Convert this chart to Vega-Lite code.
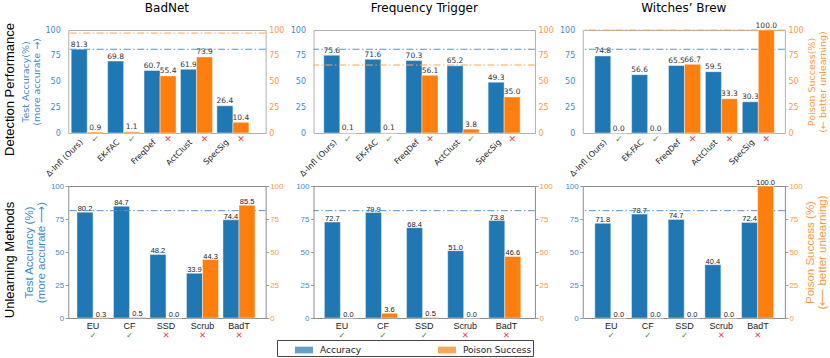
{
  "$schema": "https://vega.github.io/schema/vega-lite/v6.json",
  "padding": {"left": 0, "top": 1, "right": 0, "bottom": 0},
  "autosize": {"type": "pad"},
  "columns": 4,
  "bounds": "flush",
  "spacing": {"row": 53, "column": 47.25},
  "datasets": {
    "bars": [
      {"panel": "D1", "method": "Δ-Infl (Ours)", "metric": "Accuracy", "value": 81.3},
      {"panel": "D1", "method": "Δ-Infl (Ours)", "metric": "Poison Success", "value": 0.9, "mark": "✓"},
      {"panel": "D1", "method": "EK-FAC", "metric": "Accuracy", "value": 69.8},
      {"panel": "D1", "method": "EK-FAC", "metric": "Poison Success", "value": 1.1, "mark": "✓"},
      {"panel": "D1", "method": "FreqDef", "metric": "Accuracy", "value": 60.7},
      {"panel": "D1", "method": "FreqDef", "metric": "Poison Success", "value": 55.4, "mark": "✕"},
      {"panel": "D1", "method": "ActClust", "metric": "Accuracy", "value": 61.9},
      {"panel": "D1", "method": "ActClust", "metric": "Poison Success", "value": 73.9, "mark": "✕"},
      {"panel": "D1", "method": "SpecSig", "metric": "Accuracy", "value": 26.4},
      {"panel": "D1", "method": "SpecSig", "metric": "Poison Success", "value": 10.4, "mark": "✕"},
      {"panel": "D2", "method": "Δ-Infl (Ours)", "metric": "Accuracy", "value": 75.6},
      {"panel": "D2", "method": "Δ-Infl (Ours)", "metric": "Poison Success", "value": 0.1, "mark": "✓"},
      {"panel": "D2", "method": "EK-FAC", "metric": "Accuracy", "value": 71.6},
      {"panel": "D2", "method": "EK-FAC", "metric": "Poison Success", "value": 0.1, "mark": "✓"},
      {"panel": "D2", "method": "FreqDef", "metric": "Accuracy", "value": 70.3},
      {"panel": "D2", "method": "FreqDef", "metric": "Poison Success", "value": 56.1, "mark": "✕"},
      {"panel": "D2", "method": "ActClust", "metric": "Accuracy", "value": 65.2},
      {"panel": "D2", "method": "ActClust", "metric": "Poison Success", "value": 3.8, "mark": "✓"},
      {"panel": "D2", "method": "SpecSig", "metric": "Accuracy", "value": 49.3},
      {"panel": "D2", "method": "SpecSig", "metric": "Poison Success", "value": 35.0, "mark": "✕"},
      {"panel": "D3", "method": "Δ-Infl (Ours)", "metric": "Accuracy", "value": 74.8},
      {"panel": "D3", "method": "Δ-Infl (Ours)", "metric": "Poison Success", "value": 0.0, "mark": "✓"},
      {"panel": "D3", "method": "EK-FAC", "metric": "Accuracy", "value": 56.6},
      {"panel": "D3", "method": "EK-FAC", "metric": "Poison Success", "value": 0.0, "mark": "✓"},
      {"panel": "D3", "method": "FreqDef", "metric": "Accuracy", "value": 65.5},
      {"panel": "D3", "method": "FreqDef", "metric": "Poison Success", "value": 66.7, "mark": "✕"},
      {"panel": "D3", "method": "ActClust", "metric": "Accuracy", "value": 59.5},
      {"panel": "D3", "method": "ActClust", "metric": "Poison Success", "value": 33.3, "mark": "✕"},
      {"panel": "D3", "method": "SpecSig", "metric": "Accuracy", "value": 30.3},
      {"panel": "D3", "method": "SpecSig", "metric": "Poison Success", "value": 100.0, "mark": "✕"},
      {"panel": "U1", "method": "EU", "metric": "Accuracy", "value": 80.2},
      {"panel": "U1", "method": "EU", "metric": "Poison Success", "value": 0.3, "mark": "✓"},
      {"panel": "U1", "method": "CF", "metric": "Accuracy", "value": 84.7},
      {"panel": "U1", "method": "CF", "metric": "Poison Success", "value": 0.5, "mark": "✓"},
      {"panel": "U1", "method": "SSD", "metric": "Accuracy", "value": 48.2},
      {"panel": "U1", "method": "SSD", "metric": "Poison Success", "value": 0.0, "mark": "✕"},
      {"panel": "U1", "method": "Scrub", "metric": "Accuracy", "value": 33.9},
      {"panel": "U1", "method": "Scrub", "metric": "Poison Success", "value": 44.3, "mark": "✕"},
      {"panel": "U1", "method": "BadT", "metric": "Accuracy", "value": 74.4},
      {"panel": "U1", "method": "BadT", "metric": "Poison Success", "value": 85.5, "mark": "✕"},
      {"panel": "U2", "method": "EU", "metric": "Accuracy", "value": 72.7},
      {"panel": "U2", "method": "EU", "metric": "Poison Success", "value": 0.0, "mark": "✓"},
      {"panel": "U2", "method": "CF", "metric": "Accuracy", "value": 79.9},
      {"panel": "U2", "method": "CF", "metric": "Poison Success", "value": 3.6, "mark": "✓"},
      {"panel": "U2", "method": "SSD", "metric": "Accuracy", "value": 68.4},
      {"panel": "U2", "method": "SSD", "metric": "Poison Success", "value": 0.5, "mark": "✓"},
      {"panel": "U2", "method": "Scrub", "metric": "Accuracy", "value": 51.0},
      {"panel": "U2", "method": "Scrub", "metric": "Poison Success", "value": 0.0, "mark": "✕"},
      {"panel": "U2", "method": "BadT", "metric": "Accuracy", "value": 73.8},
      {"panel": "U2", "method": "BadT", "metric": "Poison Success", "value": 46.6, "mark": "✕"},
      {"panel": "U3", "method": "EU", "metric": "Accuracy", "value": 71.8},
      {"panel": "U3", "method": "EU", "metric": "Poison Success", "value": 0.0, "mark": "✓"},
      {"panel": "U3", "method": "CF", "metric": "Accuracy", "value": 78.7},
      {"panel": "U3", "method": "CF", "metric": "Poison Success", "value": 0.0, "mark": "✓"},
      {"panel": "U3", "method": "SSD", "metric": "Accuracy", "value": 74.7},
      {"panel": "U3", "method": "SSD", "metric": "Poison Success", "value": 0.0, "mark": "✓"},
      {"panel": "U3", "method": "Scrub", "metric": "Accuracy", "value": 40.4},
      {"panel": "U3", "method": "Scrub", "metric": "Poison Success", "value": 0.0, "mark": "✕"},
      {"panel": "U3", "method": "BadT", "metric": "Accuracy", "value": 72.4},
      {"panel": "U3", "method": "BadT", "metric": "Poison Success", "value": 100.0, "mark": "✕"}
    ],
    "refs": [
      {"panel": "D1", "metric": "Accuracy", "value": 81.3},
      {"panel": "D1", "metric": "Poison Success", "value": 97},
      {"panel": "D2", "metric": "Accuracy", "value": 81.3},
      {"panel": "D2", "metric": "Poison Success", "value": 66},
      {"panel": "D3", "metric": "Accuracy", "value": 81.3},
      {"panel": "D3", "metric": "Poison Success", "value": 100},
      {"panel": "U1", "metric": "Accuracy", "value": 81.3},
      {"panel": "U2", "metric": "Accuracy", "value": 81.3},
      {"panel": "U3", "metric": "Accuracy", "value": 81.3}
    ]
  },
  "concat": [
    {
      "width": 20.25, "height": 103,
      "view": {"stroke": null},
      "data": {"values": [{"label": "Detection Performance"}]},
      "mark": {"type": "text", "angle": 270, "font": "Liberation Sans", "fontSize": 13, "color": "#000", "dx": -8},
      "encoding": {"text": {"field": "label", "type": "nominal"}}
    },
    {
      "width": 197.4, "height": 103,
      "view": {"stroke": "#b0b0b0"},
      "title": {"text": "BadNet", "font": "DejaVu Sans", "fontSize": 12, "fontWeight": "normal", "color": "#000", "offset": 11.5, "frame": "group"},
      "data": {"name": "bars"},
      "transform": [{"filter": "datum.panel == 'D1'"}],
      "layer": [
        {"layer": [
          {"transform": [{"filter": "datum.metric == 'Accuracy'"}],
           "mark": {"type": "bar", "stroke": "#ffffff", "strokeWidth": 0.8, "strokeOpacity": 0.55},
           "encoding": {
             "x": {"field": "method", "type": "nominal", "sort": null, "title": null, "scale": {"paddingInner": 0.12, "paddingOuter": 0.27, "align": 0.15}, "axis": {"labelAngle": -45, "labelAlign": "right", "labelBaseline": "top", "labelFont": "DejaVu Sans", "labelFontSize": 8, "labelColor": "#222", "labelOffset": -8, "labelPadding": 5, "ticks": false, "domain": false, "labelLimit": 300}},
             "xOffset": {"field": "metric", "type": "nominal", "scale": {"domain": ["Accuracy", "Poison Success"], "paddingInner": 0, "paddingOuter": 0}},
             "y": {"field": "value", "type": "quantitative", "scale": {"domain": [0, 100]}, "axis": {"orient": "left", "values": [0, 25, 50, 75, 100], "grid": false, "domain": false, "ticks": false, "labelFont": "DejaVu Sans", "labelFontSize": 8, "labelColor": "#3d8ccb", "labelPadding": 8, "title": ["Test Accuracy(%)", "(more accurate →)"], "titleFont": "DejaVu Sans", "titleFontSize": 9.5, "titleFontWeight": "normal", "titleColor": "#3d8ccb", "titlePadding": 3, "titleLineHeight": 11}},
             "color": {"field": "metric", "type": "nominal", "scale": {"domain": ["Accuracy", "Poison Success"], "range": ["#1f77b4", "#ff7f0e"]},
               "legend": {"orient": "none", "legendX": 277, "legendY": 310, "direction": "horizontal", "columns": 2, "columnPadding": 76, "title": "\u00a0", "titleOrient": "left", "titlePadding": 17, "titleFontSize": 9, "symbolType": "M-1,-0.37L1,-0.37L1,0.37L-1,0.37Z", "symbolSize": 324, "symbolOpacity": 0.7, "symbolStrokeWidth": 0, "labelFont": "DejaVu Sans", "labelFontSize": 9, "labelColor": "#222", "labelOffset": 7, "labelExpr": "datum.label == 'Poison Success' ? 'Poison Success\u00a0\u00a0\u00a0\u00a0\u00a0\u00a0\u00a0' : datum.label", "strokeColor": "#444", "padding": 1}}
           }},
          {"transform": [{"filter": "datum.metric == 'Accuracy'"}],
           "mark": {"type": "text", "font": "DejaVu Sans", "fontSize": 7.5, "color": "#333", "baseline": "alphabetic", "dy": -2.5},
           "encoding": {
             "x": {"field": "method", "type": "nominal", "sort": null, "title": null, "scale": {"paddingInner": 0.12, "paddingOuter": 0.27, "align": 0.15}, "axis": {"labelAngle": -45, "labelAlign": "right", "labelBaseline": "top", "labelFont": "DejaVu Sans", "labelFontSize": 8, "labelColor": "#222", "labelOffset": -8, "labelPadding": 5, "ticks": false, "domain": false, "labelLimit": 300}},
             "xOffset": {"field": "metric", "type": "nominal", "scale": {"domain": ["Accuracy", "Poison Success"], "paddingInner": 0, "paddingOuter": 0}},
             "y": {"field": "value", "type": "quantitative", "scale": {"domain": [0, 100]}, "axis": {"orient": "left", "values": [0, 25, 50, 75, 100], "grid": false, "domain": false, "ticks": false, "labelFont": "DejaVu Sans", "labelFontSize": 8, "labelColor": "#3d8ccb", "labelPadding": 8, "title": ["Test Accuracy(%)", "(more accurate →)"], "titleFont": "DejaVu Sans", "titleFontSize": 9.5, "titleFontWeight": "normal", "titleColor": "#3d8ccb", "titlePadding": 3, "titleLineHeight": 11}},
             "text": {"field": "value", "type": "quantitative", "format": ".1f"}
           }},
          {"data": {"name": "refs"},
           "transform": [{"filter": "datum.panel == 'D1' && datum.metric == 'Accuracy'"}],
           "mark": {"type": "rule", "color": "#4f96cf", "strokeWidth": 1, "strokeDash": [7, 2.5, 1.5, 2.5]},
           "encoding": {"y": {"field": "value", "type": "quantitative", "scale": {"domain": [0, 100]}, "axis": {"orient": "left", "values": [0, 25, 50, 75, 100], "grid": false, "domain": false, "ticks": false, "labelFont": "DejaVu Sans", "labelFontSize": 8, "labelColor": "#3d8ccb", "labelPadding": 8, "title": ["Test Accuracy(%)", "(more accurate →)"], "titleFont": "DejaVu Sans", "titleFontSize": 9.5, "titleFontWeight": "normal", "titleColor": "#3d8ccb", "titlePadding": 3, "titleLineHeight": 11}}}},
          {"transform": [{"filter": "datum.metric == 'Poison Success'"}],
           "mark": {"type": "text", "font": "DejaVu Sans", "fontSize": 9, "baseline": "middle"},
           "encoding": {
             "x": {"field": "method", "type": "nominal", "sort": null, "title": null, "scale": {"paddingInner": 0.12, "paddingOuter": 0.27, "align": 0.15}, "axis": {"labelAngle": -45, "labelAlign": "right", "labelBaseline": "top", "labelFont": "DejaVu Sans", "labelFontSize": 8, "labelColor": "#222", "labelOffset": -8, "labelPadding": 5, "ticks": false, "domain": false, "labelLimit": 300}},
             "xOffset": {"field": "metric", "type": "nominal", "scale": {"domain": ["Accuracy", "Poison Success"], "paddingInner": 0, "paddingOuter": 0}},
             "y": {"datum": -6, "type": "quantitative", "scale": {"domain": [0, 100]}, "axis": {"orient": "left", "values": [0, 25, 50, 75, 100], "grid": false, "domain": false, "ticks": false, "labelFont": "DejaVu Sans", "labelFontSize": 8, "labelColor": "#3d8ccb", "labelPadding": 8, "title": ["Test Accuracy(%)", "(more accurate →)"], "titleFont": "DejaVu Sans", "titleFontSize": 9.5, "titleFontWeight": "normal", "titleColor": "#3d8ccb", "titlePadding": 3, "titleLineHeight": 11}},
             "text": {"field": "mark", "type": "nominal"},
             "color": {"condition": {"test": "datum.mark == '✓'", "value": "#3a9a3a"}, "value": "#e0484a"}
           }}
        ]},
        {"layer": [
          {"transform": [{"filter": "datum.metric == 'Poison Success'"}],
           "mark": {"type": "bar", "stroke": "#ffffff", "strokeWidth": 0.8, "strokeOpacity": 0.55},
           "encoding": {
             "x": {"field": "method", "type": "nominal", "sort": null, "title": null, "scale": {"paddingInner": 0.12, "paddingOuter": 0.27, "align": 0.15}, "axis": {"labelAngle": -45, "labelAlign": "right", "labelBaseline": "top", "labelFont": "DejaVu Sans", "labelFontSize": 8, "labelColor": "#222", "labelOffset": -8, "labelPadding": 5, "ticks": false, "domain": false, "labelLimit": 300}},
             "xOffset": {"field": "metric", "type": "nominal", "scale": {"domain": ["Accuracy", "Poison Success"], "paddingInner": 0, "paddingOuter": 0}},
             "y": {"field": "value", "type": "quantitative", "scale": {"domain": [0, 100]}, "axis": {"orient": "right", "values": [0, 25, 50, 75, 100], "grid": false, "domain": false, "ticks": false, "labelFont": "DejaVu Sans", "labelFontSize": 8, "labelColor": "#fd9a40", "labelPadding": 3, "title": null}},
             "color": {"field": "metric", "type": "nominal", "scale": {"domain": ["Accuracy", "Poison Success"], "range": ["#1f77b4", "#ff7f0e"]}, "legend": null}
           }},
          {"transform": [{"filter": "datum.metric == 'Poison Success'"}],
           "mark": {"type": "text", "font": "DejaVu Sans", "fontSize": 7.5, "color": "#333", "baseline": "alphabetic", "dy": -2.5},
           "encoding": {
             "x": {"field": "method", "type": "nominal", "sort": null, "title": null, "scale": {"paddingInner": 0.12, "paddingOuter": 0.27, "align": 0.15}, "axis": {"labelAngle": -45, "labelAlign": "right", "labelBaseline": "top", "labelFont": "DejaVu Sans", "labelFontSize": 8, "labelColor": "#222", "labelOffset": -8, "labelPadding": 5, "ticks": false, "domain": false, "labelLimit": 300}},
             "xOffset": {"field": "metric", "type": "nominal", "scale": {"domain": ["Accuracy", "Poison Success"], "paddingInner": 0, "paddingOuter": 0}},
             "y": {"field": "value", "type": "quantitative", "scale": {"domain": [0, 100]}, "axis": {"orient": "right", "values": [0, 25, 50, 75, 100], "grid": false, "domain": false, "ticks": false, "labelFont": "DejaVu Sans", "labelFontSize": 8, "labelColor": "#fd9a40", "labelPadding": 3, "title": null}},
             "text": {"field": "value", "type": "quantitative", "format": ".1f"}
           }},
          {"data": {"name": "refs"},
           "transform": [{"filter": "datum.panel == 'D1' && datum.metric == 'Poison Success'"}],
           "mark": {"type": "rule", "color": "#ffa54f", "strokeWidth": 1, "strokeDash": [7, 2.5, 1.5, 2.5]},
           "encoding": {"y": {"field": "value", "type": "quantitative", "scale": {"domain": [0, 100]}, "axis": {"orient": "right", "values": [0, 25, 50, 75, 100], "grid": false, "domain": false, "ticks": false, "labelFont": "DejaVu Sans", "labelFontSize": 8, "labelColor": "#fd9a40", "labelPadding": 3, "title": null}}}}
        ]}
      ],
      "resolve": {"scale": {"y": "independent"}}
    },
    {
      "width": 221.45, "height": 103,
      "view": {"stroke": "#b0b0b0"},
      "title": {"text": "Frequency Trigger", "font": "DejaVu Sans", "fontSize": 12, "fontWeight": "normal", "color": "#000", "offset": 11.5, "frame": "group"},
      "data": {"name": "bars"},
      "transform": [{"filter": "datum.panel == 'D2'"}],
      "layer": [
        {"layer": [
          {"transform": [{"filter": "datum.metric == 'Accuracy'"}],
           "mark": {"type": "bar", "stroke": "#ffffff", "strokeWidth": 0.8, "strokeOpacity": 0.55},
           "encoding": {
             "x": {"field": "method", "type": "nominal", "sort": null, "title": null, "scale": {"paddingInner": 0.11, "paddingOuter": 0.25, "align": 0.5}, "axis": {"labelAngle": -45, "labelAlign": "right", "labelBaseline": "top", "labelFont": "DejaVu Sans", "labelFontSize": 8, "labelColor": "#222", "labelOffset": -9, "labelPadding": 5, "ticks": false, "domain": false, "labelLimit": 300}},
             "xOffset": {"field": "metric", "type": "nominal", "scale": {"domain": ["Accuracy", "Poison Success"], "paddingInner": 0, "paddingOuter": 0}},
             "y": {"field": "value", "type": "quantitative", "scale": {"domain": [0, 100]}, "axis": {"orient": "left", "values": [0, 25, 50, 75, 100], "grid": false, "domain": false, "ticks": false, "labelFont": "DejaVu Sans", "labelFontSize": 8, "labelColor": "#3d8ccb", "labelPadding": 8, "title": null}},
             "color": {"field": "metric", "type": "nominal", "scale": {"domain": ["Accuracy", "Poison Success"], "range": ["#1f77b4", "#ff7f0e"]}, "legend": null}
           }},
          {"transform": [{"filter": "datum.metric == 'Accuracy'"}],
           "mark": {"type": "text", "font": "DejaVu Sans", "fontSize": 7.5, "color": "#333", "baseline": "alphabetic", "dy": -2.5},
           "encoding": {
             "x": {"field": "method", "type": "nominal", "sort": null, "title": null, "scale": {"paddingInner": 0.11, "paddingOuter": 0.25, "align": 0.5}, "axis": {"labelAngle": -45, "labelAlign": "right", "labelBaseline": "top", "labelFont": "DejaVu Sans", "labelFontSize": 8, "labelColor": "#222", "labelOffset": -9, "labelPadding": 5, "ticks": false, "domain": false, "labelLimit": 300}},
             "xOffset": {"field": "metric", "type": "nominal", "scale": {"domain": ["Accuracy", "Poison Success"], "paddingInner": 0, "paddingOuter": 0}},
             "y": {"field": "value", "type": "quantitative", "scale": {"domain": [0, 100]}, "axis": {"orient": "left", "values": [0, 25, 50, 75, 100], "grid": false, "domain": false, "ticks": false, "labelFont": "DejaVu Sans", "labelFontSize": 8, "labelColor": "#3d8ccb", "labelPadding": 8, "title": null}},
             "text": {"field": "value", "type": "quantitative", "format": ".1f"}
           }},
          {"data": {"name": "refs"},
           "transform": [{"filter": "datum.panel == 'D2' && datum.metric == 'Accuracy'"}],
           "mark": {"type": "rule", "color": "#4f96cf", "strokeWidth": 1, "strokeDash": [7, 2.5, 1.5, 2.5]},
           "encoding": {"y": {"field": "value", "type": "quantitative", "scale": {"domain": [0, 100]}, "axis": {"orient": "left", "values": [0, 25, 50, 75, 100], "grid": false, "domain": false, "ticks": false, "labelFont": "DejaVu Sans", "labelFontSize": 8, "labelColor": "#3d8ccb", "labelPadding": 8, "title": null}}}},
          {"transform": [{"filter": "datum.metric == 'Poison Success'"}],
           "mark": {"type": "text", "font": "DejaVu Sans", "fontSize": 9, "baseline": "middle"},
           "encoding": {
             "x": {"field": "method", "type": "nominal", "sort": null, "title": null, "scale": {"paddingInner": 0.11, "paddingOuter": 0.25, "align": 0.5}, "axis": {"labelAngle": -45, "labelAlign": "right", "labelBaseline": "top", "labelFont": "DejaVu Sans", "labelFontSize": 8, "labelColor": "#222", "labelOffset": -9, "labelPadding": 5, "ticks": false, "domain": false, "labelLimit": 300}},
             "xOffset": {"field": "metric", "type": "nominal", "scale": {"domain": ["Accuracy", "Poison Success"], "paddingInner": 0, "paddingOuter": 0}},
             "y": {"datum": -6, "type": "quantitative", "scale": {"domain": [0, 100]}, "axis": {"orient": "left", "values": [0, 25, 50, 75, 100], "grid": false, "domain": false, "ticks": false, "labelFont": "DejaVu Sans", "labelFontSize": 8, "labelColor": "#3d8ccb", "labelPadding": 8, "title": null}},
             "text": {"field": "mark", "type": "nominal"},
             "color": {"condition": {"test": "datum.mark == '✓'", "value": "#3a9a3a"}, "value": "#e0484a"}
           }}
        ]},
        {"layer": [
          {"transform": [{"filter": "datum.metric == 'Poison Success'"}],
           "mark": {"type": "bar", "stroke": "#ffffff", "strokeWidth": 0.8, "strokeOpacity": 0.55},
           "encoding": {
             "x": {"field": "method", "type": "nominal", "sort": null, "title": null, "scale": {"paddingInner": 0.11, "paddingOuter": 0.25, "align": 0.5}, "axis": {"labelAngle": -45, "labelAlign": "right", "labelBaseline": "top", "labelFont": "DejaVu Sans", "labelFontSize": 8, "labelColor": "#222", "labelOffset": -9, "labelPadding": 5, "ticks": false, "domain": false, "labelLimit": 300}},
             "xOffset": {"field": "metric", "type": "nominal", "scale": {"domain": ["Accuracy", "Poison Success"], "paddingInner": 0, "paddingOuter": 0}},
             "y": {"field": "value", "type": "quantitative", "scale": {"domain": [0, 100]}, "axis": {"orient": "right", "values": [0, 25, 50, 75, 100], "grid": false, "domain": false, "ticks": false, "labelFont": "DejaVu Sans", "labelFontSize": 8, "labelColor": "#fd9a40", "labelPadding": 3, "title": null}},
             "color": {"field": "metric", "type": "nominal", "scale": {"domain": ["Accuracy", "Poison Success"], "range": ["#1f77b4", "#ff7f0e"]}, "legend": null}
           }},
          {"transform": [{"filter": "datum.metric == 'Poison Success'"}],
           "mark": {"type": "text", "font": "DejaVu Sans", "fontSize": 7.5, "color": "#333", "baseline": "alphabetic", "dy": -2.5},
           "encoding": {
             "x": {"field": "method", "type": "nominal", "sort": null, "title": null, "scale": {"paddingInner": 0.11, "paddingOuter": 0.25, "align": 0.5}, "axis": {"labelAngle": -45, "labelAlign": "right", "labelBaseline": "top", "labelFont": "DejaVu Sans", "labelFontSize": 8, "labelColor": "#222", "labelOffset": -9, "labelPadding": 5, "ticks": false, "domain": false, "labelLimit": 300}},
             "xOffset": {"field": "metric", "type": "nominal", "scale": {"domain": ["Accuracy", "Poison Success"], "paddingInner": 0, "paddingOuter": 0}},
             "y": {"field": "value", "type": "quantitative", "scale": {"domain": [0, 100]}, "axis": {"orient": "right", "values": [0, 25, 50, 75, 100], "grid": false, "domain": false, "ticks": false, "labelFont": "DejaVu Sans", "labelFontSize": 8, "labelColor": "#fd9a40", "labelPadding": 3, "title": null}},
             "text": {"field": "value", "type": "quantitative", "format": ".1f"}
           }},
          {"data": {"name": "refs"},
           "transform": [{"filter": "datum.panel == 'D2' && datum.metric == 'Poison Success'"}],
           "mark": {"type": "rule", "color": "#ffa54f", "strokeWidth": 1, "strokeDash": [7, 2.5, 1.5, 2.5]},
           "encoding": {"y": {"field": "value", "type": "quantitative", "scale": {"domain": [0, 100]}, "axis": {"orient": "right", "values": [0, 25, 50, 75, 100], "grid": false, "domain": false, "ticks": false, "labelFont": "DejaVu Sans", "labelFontSize": 8, "labelColor": "#fd9a40", "labelPadding": 3, "title": null}}}}
        ]}
      ],
      "resolve": {"scale": {"y": "independent"}}
    },
    {
      "width": 202.15, "height": 103,
      "view": {"stroke": "#b0b0b0"},
      "title": {"text": "Witches’ Brew", "font": "DejaVu Sans", "fontSize": 12, "fontWeight": "normal", "color": "#000", "offset": 6.5, "frame": "group"},
      "data": {"name": "bars"},
      "transform": [{"filter": "datum.panel == 'D3'"}],
      "layer": [
        {"layer": [
          {"transform": [{"filter": "datum.metric == 'Accuracy'"}],
           "mark": {"type": "bar", "stroke": "#ffffff", "strokeWidth": 0.8, "strokeOpacity": 0.55},
           "encoding": {
             "x": {"field": "method", "type": "nominal", "sort": null, "title": null, "scale": {"paddingInner": 0.1, "paddingOuter": 0.29, "align": 0.56}, "axis": {"labelAngle": -45, "labelAlign": "right", "labelBaseline": "top", "labelFont": "DejaVu Sans", "labelFontSize": 8, "labelColor": "#222", "labelOffset": -8.3, "labelPadding": 5, "ticks": false, "domain": false, "labelLimit": 300}},
             "xOffset": {"field": "metric", "type": "nominal", "scale": {"domain": ["Accuracy", "Poison Success"], "paddingInner": 0, "paddingOuter": 0}},
             "y": {"field": "value", "type": "quantitative", "scale": {"domain": [0, 100]}, "axis": {"orient": "left", "values": [0, 25, 50, 75, 100], "grid": false, "domain": false, "ticks": false, "labelFont": "DejaVu Sans", "labelFontSize": 8, "labelColor": "#3d8ccb", "labelPadding": 8, "title": null}},
             "color": {"field": "metric", "type": "nominal", "scale": {"domain": ["Accuracy", "Poison Success"], "range": ["#1f77b4", "#ff7f0e"]}, "legend": null}
           }},
          {"transform": [{"filter": "datum.metric == 'Accuracy'"}],
           "mark": {"type": "text", "font": "DejaVu Sans", "fontSize": 7.5, "color": "#333", "baseline": "alphabetic", "dy": -2.5},
           "encoding": {
             "x": {"field": "method", "type": "nominal", "sort": null, "title": null, "scale": {"paddingInner": 0.1, "paddingOuter": 0.29, "align": 0.56}, "axis": {"labelAngle": -45, "labelAlign": "right", "labelBaseline": "top", "labelFont": "DejaVu Sans", "labelFontSize": 8, "labelColor": "#222", "labelOffset": -8.3, "labelPadding": 5, "ticks": false, "domain": false, "labelLimit": 300}},
             "xOffset": {"field": "metric", "type": "nominal", "scale": {"domain": ["Accuracy", "Poison Success"], "paddingInner": 0, "paddingOuter": 0}},
             "y": {"field": "value", "type": "quantitative", "scale": {"domain": [0, 100]}, "axis": {"orient": "left", "values": [0, 25, 50, 75, 100], "grid": false, "domain": false, "ticks": false, "labelFont": "DejaVu Sans", "labelFontSize": 8, "labelColor": "#3d8ccb", "labelPadding": 8, "title": null}},
             "text": {"field": "value", "type": "quantitative", "format": ".1f"}
           }},
          {"data": {"name": "refs"},
           "transform": [{"filter": "datum.panel == 'D3' && datum.metric == 'Accuracy'"}],
           "mark": {"type": "rule", "color": "#4f96cf", "strokeWidth": 1, "strokeDash": [7, 2.5, 1.5, 2.5]},
           "encoding": {"y": {"field": "value", "type": "quantitative", "scale": {"domain": [0, 100]}, "axis": {"orient": "left", "values": [0, 25, 50, 75, 100], "grid": false, "domain": false, "ticks": false, "labelFont": "DejaVu Sans", "labelFontSize": 8, "labelColor": "#3d8ccb", "labelPadding": 8, "title": null}}}},
          {"transform": [{"filter": "datum.metric == 'Poison Success'"}],
           "mark": {"type": "text", "font": "DejaVu Sans", "fontSize": 9, "baseline": "middle"},
           "encoding": {
             "x": {"field": "method", "type": "nominal", "sort": null, "title": null, "scale": {"paddingInner": 0.1, "paddingOuter": 0.29, "align": 0.56}, "axis": {"labelAngle": -45, "labelAlign": "right", "labelBaseline": "top", "labelFont": "DejaVu Sans", "labelFontSize": 8, "labelColor": "#222", "labelOffset": -8.3, "labelPadding": 5, "ticks": false, "domain": false, "labelLimit": 300}},
             "xOffset": {"field": "metric", "type": "nominal", "scale": {"domain": ["Accuracy", "Poison Success"], "paddingInner": 0, "paddingOuter": 0}},
             "y": {"datum": -6, "type": "quantitative", "scale": {"domain": [0, 100]}, "axis": {"orient": "left", "values": [0, 25, 50, 75, 100], "grid": false, "domain": false, "ticks": false, "labelFont": "DejaVu Sans", "labelFontSize": 8, "labelColor": "#3d8ccb", "labelPadding": 8, "title": null}},
             "text": {"field": "mark", "type": "nominal"},
             "color": {"condition": {"test": "datum.mark == '✓'", "value": "#3a9a3a"}, "value": "#e0484a"}
           }}
        ]},
        {"layer": [
          {"transform": [{"filter": "datum.metric == 'Poison Success'"}],
           "mark": {"type": "bar", "stroke": "#ffffff", "strokeWidth": 0.8, "strokeOpacity": 0.55},
           "encoding": {
             "x": {"field": "method", "type": "nominal", "sort": null, "title": null, "scale": {"paddingInner": 0.1, "paddingOuter": 0.29, "align": 0.56}, "axis": {"labelAngle": -45, "labelAlign": "right", "labelBaseline": "top", "labelFont": "DejaVu Sans", "labelFontSize": 8, "labelColor": "#222", "labelOffset": -8.3, "labelPadding": 5, "ticks": false, "domain": false, "labelLimit": 300}},
             "xOffset": {"field": "metric", "type": "nominal", "scale": {"domain": ["Accuracy", "Poison Success"], "paddingInner": 0, "paddingOuter": 0}},
             "y": {"field": "value", "type": "quantitative", "scale": {"domain": [0, 100]}, "axis": {"orient": "right", "values": [0, 25, 50, 75, 100], "grid": false, "domain": false, "ticks": false, "labelFont": "DejaVu Sans", "labelFontSize": 8, "labelColor": "#fd9a40", "labelPadding": 3, "title": ["Poison Success(%)", "(← better unlearning)"], "titleAngle": 270, "titleBaseline": "top", "titleFont": "DejaVu Sans", "titleFontSize": 9.5, "titleFontWeight": "normal", "titleColor": "#fd9a40", "titlePadding": -8, "titleLineHeight": 11}},
             "color": {"field": "metric", "type": "nominal", "scale": {"domain": ["Accuracy", "Poison Success"], "range": ["#1f77b4", "#ff7f0e"]}, "legend": null}
           }},
          {"transform": [{"filter": "datum.metric == 'Poison Success'"}],
           "mark": {"type": "text", "font": "DejaVu Sans", "fontSize": 7.5, "color": "#333", "baseline": "alphabetic", "dy": -2.5},
           "encoding": {
             "x": {"field": "method", "type": "nominal", "sort": null, "title": null, "scale": {"paddingInner": 0.1, "paddingOuter": 0.29, "align": 0.56}, "axis": {"labelAngle": -45, "labelAlign": "right", "labelBaseline": "top", "labelFont": "DejaVu Sans", "labelFontSize": 8, "labelColor": "#222", "labelOffset": -8.3, "labelPadding": 5, "ticks": false, "domain": false, "labelLimit": 300}},
             "xOffset": {"field": "metric", "type": "nominal", "scale": {"domain": ["Accuracy", "Poison Success"], "paddingInner": 0, "paddingOuter": 0}},
             "y": {"field": "value", "type": "quantitative", "scale": {"domain": [0, 100]}, "axis": {"orient": "right", "values": [0, 25, 50, 75, 100], "grid": false, "domain": false, "ticks": false, "labelFont": "DejaVu Sans", "labelFontSize": 8, "labelColor": "#fd9a40", "labelPadding": 3, "title": ["Poison Success(%)", "(← better unlearning)"], "titleAngle": 270, "titleBaseline": "top", "titleFont": "DejaVu Sans", "titleFontSize": 9.5, "titleFontWeight": "normal", "titleColor": "#fd9a40", "titlePadding": -8, "titleLineHeight": 11}},
             "text": {"field": "value", "type": "quantitative", "format": ".1f"}
           }},
          {"data": {"name": "refs"},
           "transform": [{"filter": "datum.panel == 'D3' && datum.metric == 'Poison Success'"}],
           "mark": {"type": "rule", "color": "#ffa54f", "strokeWidth": 1, "strokeDash": [7, 2.5, 1.5, 2.5]},
           "encoding": {"y": {"field": "value", "type": "quantitative", "scale": {"domain": [0, 100]}, "axis": {"orient": "right", "values": [0, 25, 50, 75, 100], "grid": false, "domain": false, "ticks": false, "labelFont": "DejaVu Sans", "labelFontSize": 8, "labelColor": "#fd9a40", "labelPadding": 3, "title": ["Poison Success(%)", "(← better unlearning)"], "titleAngle": 270, "titleBaseline": "top", "titleFont": "DejaVu Sans", "titleFontSize": 9.5, "titleFontWeight": "normal", "titleColor": "#fd9a40", "titlePadding": -8, "titleLineHeight": 11}}}}
        ]}
      ],
      "resolve": {"scale": {"y": "independent"}}
    },
    {
      "width": 20.25, "height": 132,
      "view": {"stroke": null},
      "data": {"values": [{"label": "Unlearning Methods"}]},
      "mark": {"type": "text", "angle": 270, "font": "Liberation Sans", "fontSize": 13, "color": "#000", "dx": -8},
      "encoding": {"text": {"field": "label", "type": "nominal"}}
    },
    {
      "width": 197.4, "height": 132,
      "view": {"stroke": "#8c8c8c"},
      "data": {"name": "bars"},
      "transform": [{"filter": "datum.panel == 'U1'"}],
      "layer": [
        {"layer": [
          {"transform": [{"filter": "datum.metric == 'Accuracy'"}],
           "mark": {"type": "bar", "stroke": "#ffffff", "strokeWidth": 0.8, "strokeOpacity": 0.55},
           "encoding": {
             "x": {"field": "method", "type": "nominal", "sort": null, "title": null, "scale": {"paddingInner": 0.123, "paddingOuter": 0.266, "align": 0.45}, "axis": {"labelAngle": 0, "labelFont": "Liberation Sans", "labelFontSize": 9, "labelColor": "#222", "labelPadding": 3, "ticks": false, "domain": false}},
             "xOffset": {"field": "metric", "type": "nominal", "scale": {"domain": ["Accuracy", "Poison Success"], "paddingInner": 0, "paddingOuter": 0}},
             "y": {"field": "value", "type": "quantitative", "scale": {"domain": [0, 100]}, "axis": {"orient": "left", "values": [0, 25, 50, 75, 100], "grid": false, "domain": false, "ticks": true, "tickSize": 3, "tickColor": "#999", "labelFont": "Liberation Sans", "labelFontSize": 8, "labelColor": "#3d8ccb", "labelPadding": 1.5, "title": ["Test Accuracy (%)", "(more accurate ⟶)"], "titleFont": "Liberation Sans", "titleFontSize": 11.5, "titleFontWeight": "normal", "titleColor": "#3d8ccb", "titlePadding": 4, "titleLineHeight": 12}},
             "color": {"field": "metric", "type": "nominal", "scale": {"domain": ["Accuracy", "Poison Success"], "range": ["#1f77b4", "#ff7f0e"]}, "legend": null}
           }},
          {"transform": [{"filter": "datum.metric == 'Accuracy'"}],
           "mark": {"type": "text", "font": "Liberation Sans", "fontSize": 7.5, "color": "#222", "baseline": "alphabetic", "dy": -1},
           "encoding": {
             "x": {"field": "method", "type": "nominal", "sort": null, "title": null, "scale": {"paddingInner": 0.123, "paddingOuter": 0.266, "align": 0.45}, "axis": {"labelAngle": 0, "labelFont": "Liberation Sans", "labelFontSize": 9, "labelColor": "#222", "labelPadding": 3, "ticks": false, "domain": false}},
             "xOffset": {"field": "metric", "type": "nominal", "scale": {"domain": ["Accuracy", "Poison Success"], "paddingInner": 0, "paddingOuter": 0}},
             "y": {"field": "value", "type": "quantitative", "scale": {"domain": [0, 100]}, "axis": {"orient": "left", "values": [0, 25, 50, 75, 100], "grid": false, "domain": false, "ticks": true, "tickSize": 3, "tickColor": "#999", "labelFont": "Liberation Sans", "labelFontSize": 8, "labelColor": "#3d8ccb", "labelPadding": 1.5, "title": ["Test Accuracy (%)", "(more accurate ⟶)"], "titleFont": "Liberation Sans", "titleFontSize": 11.5, "titleFontWeight": "normal", "titleColor": "#3d8ccb", "titlePadding": 4, "titleLineHeight": 12}},
             "text": {"field": "value", "type": "quantitative", "format": ".1f"}
           }},
          {"data": {"name": "refs"},
           "transform": [{"filter": "datum.panel == 'U1' && datum.metric == 'Accuracy'"}],
           "mark": {"type": "rule", "color": "#4f96cf", "strokeWidth": 1, "strokeDash": [7, 2.5, 1.5, 2.5]},
           "encoding": {"y": {"field": "value", "type": "quantitative", "scale": {"domain": [0, 100]}, "axis": {"orient": "left", "values": [0, 25, 50, 75, 100], "grid": false, "domain": false, "ticks": true, "tickSize": 3, "tickColor": "#999", "labelFont": "Liberation Sans", "labelFontSize": 8, "labelColor": "#3d8ccb", "labelPadding": 1.5, "title": ["Test Accuracy (%)", "(more accurate ⟶)"], "titleFont": "Liberation Sans", "titleFontSize": 11.5, "titleFontWeight": "normal", "titleColor": "#3d8ccb", "titlePadding": 4, "titleLineHeight": 12}}}},
          {"transform": [{"filter": "datum.metric == 'Poison Success'"}],
           "mark": {"type": "text", "font": "DejaVu Sans", "fontSize": 8.5, "baseline": "middle"},
           "encoding": {
             "x": {"field": "method", "type": "nominal", "sort": null, "title": null, "scale": {"paddingInner": 0.123, "paddingOuter": 0.266, "align": 0.45}, "axis": {"labelAngle": 0, "labelFont": "Liberation Sans", "labelFontSize": 9, "labelColor": "#222", "labelPadding": 3, "ticks": false, "domain": false}},
             "y": {"datum": -13, "type": "quantitative", "scale": {"domain": [0, 100]}, "axis": {"orient": "left", "values": [0, 25, 50, 75, 100], "grid": false, "domain": false, "ticks": true, "tickSize": 3, "tickColor": "#999", "labelFont": "Liberation Sans", "labelFontSize": 8, "labelColor": "#3d8ccb", "labelPadding": 1.5, "title": ["Test Accuracy (%)", "(more accurate ⟶)"], "titleFont": "Liberation Sans", "titleFontSize": 11.5, "titleFontWeight": "normal", "titleColor": "#3d8ccb", "titlePadding": 4, "titleLineHeight": 12}},
             "text": {"field": "mark", "type": "nominal"},
             "color": {"condition": {"test": "datum.mark == '✓'", "value": "#3a9a3a"}, "value": "#e0484a"}
           }}
        ]},
        {"layer": [
          {"transform": [{"filter": "datum.metric == 'Poison Success'"}],
           "mark": {"type": "bar", "stroke": "#ffffff", "strokeWidth": 0.8, "strokeOpacity": 0.55},
           "encoding": {
             "x": {"field": "method", "type": "nominal", "sort": null, "title": null, "scale": {"paddingInner": 0.123, "paddingOuter": 0.266, "align": 0.45}, "axis": {"labelAngle": 0, "labelFont": "Liberation Sans", "labelFontSize": 9, "labelColor": "#222", "labelPadding": 3, "ticks": false, "domain": false}},
             "xOffset": {"field": "metric", "type": "nominal", "scale": {"domain": ["Accuracy", "Poison Success"], "paddingInner": 0, "paddingOuter": 0}},
             "y": {"field": "value", "type": "quantitative", "scale": {"domain": [0, 100]}, "axis": {"orient": "right", "values": [0, 25, 50, 75, 100], "grid": false, "domain": false, "ticks": true, "tickSize": 3, "tickColor": "#999", "labelFont": "Liberation Sans", "labelFontSize": 8, "labelColor": "#fd9a40", "labelPadding": 1, "title": null}},
             "color": {"field": "metric", "type": "nominal", "scale": {"domain": ["Accuracy", "Poison Success"], "range": ["#1f77b4", "#ff7f0e"]}, "legend": null}
           }},
          {"transform": [{"filter": "datum.metric == 'Poison Success'"}],
           "mark": {"type": "text", "font": "Liberation Sans", "fontSize": 7.5, "color": "#222", "baseline": "alphabetic", "dy": -1},
           "encoding": {
             "x": {"field": "method", "type": "nominal", "sort": null, "title": null, "scale": {"paddingInner": 0.123, "paddingOuter": 0.266, "align": 0.45}, "axis": {"labelAngle": 0, "labelFont": "Liberation Sans", "labelFontSize": 9, "labelColor": "#222", "labelPadding": 3, "ticks": false, "domain": false}},
             "xOffset": {"field": "metric", "type": "nominal", "scale": {"domain": ["Accuracy", "Poison Success"], "paddingInner": 0, "paddingOuter": 0}},
             "y": {"field": "value", "type": "quantitative", "scale": {"domain": [0, 100]}, "axis": {"orient": "right", "values": [0, 25, 50, 75, 100], "grid": false, "domain": false, "ticks": true, "tickSize": 3, "tickColor": "#999", "labelFont": "Liberation Sans", "labelFontSize": 8, "labelColor": "#fd9a40", "labelPadding": 1, "title": null}},
             "text": {"field": "value", "type": "quantitative", "format": ".1f"}
           }}
        ]}
      ],
      "resolve": {"scale": {"y": "independent"}}
    },
    {
      "width": 221.45, "height": 132,
      "view": {"stroke": "#8c8c8c"},
      "data": {"name": "bars"},
      "transform": [{"filter": "datum.panel == 'U2'"}],
      "layer": [
        {"layer": [
          {"transform": [{"filter": "datum.metric == 'Accuracy'"}],
           "mark": {"type": "bar", "stroke": "#ffffff", "strokeWidth": 0.8, "strokeOpacity": 0.55},
           "encoding": {
             "x": {"field": "method", "type": "nominal", "sort": null, "title": null, "scale": {"paddingInner": 0.14, "paddingOuter": 0.264, "align": 0.5}, "axis": {"labelAngle": 0, "labelFont": "Liberation Sans", "labelFontSize": 9, "labelColor": "#222", "labelPadding": 3, "ticks": false, "domain": false}},
             "xOffset": {"field": "metric", "type": "nominal", "scale": {"domain": ["Accuracy", "Poison Success"], "paddingInner": 0, "paddingOuter": 0}},
             "y": {"field": "value", "type": "quantitative", "scale": {"domain": [0, 100]}, "axis": {"orient": "left", "values": [0, 25, 50, 75, 100], "grid": false, "domain": false, "ticks": true, "tickSize": 3, "tickColor": "#999", "labelFont": "Liberation Sans", "labelFontSize": 8, "labelColor": "#3d8ccb", "labelPadding": 1.5, "title": null}},
             "color": {"field": "metric", "type": "nominal", "scale": {"domain": ["Accuracy", "Poison Success"], "range": ["#1f77b4", "#ff7f0e"]}, "legend": null}
           }},
          {"transform": [{"filter": "datum.metric == 'Accuracy'"}],
           "mark": {"type": "text", "font": "Liberation Sans", "fontSize": 7.5, "color": "#222", "baseline": "alphabetic", "dy": -1},
           "encoding": {
             "x": {"field": "method", "type": "nominal", "sort": null, "title": null, "scale": {"paddingInner": 0.14, "paddingOuter": 0.264, "align": 0.5}, "axis": {"labelAngle": 0, "labelFont": "Liberation Sans", "labelFontSize": 9, "labelColor": "#222", "labelPadding": 3, "ticks": false, "domain": false}},
             "xOffset": {"field": "metric", "type": "nominal", "scale": {"domain": ["Accuracy", "Poison Success"], "paddingInner": 0, "paddingOuter": 0}},
             "y": {"field": "value", "type": "quantitative", "scale": {"domain": [0, 100]}, "axis": {"orient": "left", "values": [0, 25, 50, 75, 100], "grid": false, "domain": false, "ticks": true, "tickSize": 3, "tickColor": "#999", "labelFont": "Liberation Sans", "labelFontSize": 8, "labelColor": "#3d8ccb", "labelPadding": 1.5, "title": null}},
             "text": {"field": "value", "type": "quantitative", "format": ".1f"}
           }},
          {"data": {"name": "refs"},
           "transform": [{"filter": "datum.panel == 'U2' && datum.metric == 'Accuracy'"}],
           "mark": {"type": "rule", "color": "#4f96cf", "strokeWidth": 1, "strokeDash": [7, 2.5, 1.5, 2.5]},
           "encoding": {"y": {"field": "value", "type": "quantitative", "scale": {"domain": [0, 100]}, "axis": {"orient": "left", "values": [0, 25, 50, 75, 100], "grid": false, "domain": false, "ticks": true, "tickSize": 3, "tickColor": "#999", "labelFont": "Liberation Sans", "labelFontSize": 8, "labelColor": "#3d8ccb", "labelPadding": 1.5, "title": null}}}},
          {"transform": [{"filter": "datum.metric == 'Poison Success'"}],
           "mark": {"type": "text", "font": "DejaVu Sans", "fontSize": 8.5, "baseline": "middle"},
           "encoding": {
             "x": {"field": "method", "type": "nominal", "sort": null, "title": null, "scale": {"paddingInner": 0.14, "paddingOuter": 0.264, "align": 0.5}, "axis": {"labelAngle": 0, "labelFont": "Liberation Sans", "labelFontSize": 9, "labelColor": "#222", "labelPadding": 3, "ticks": false, "domain": false}},
             "y": {"datum": -13, "type": "quantitative", "scale": {"domain": [0, 100]}, "axis": {"orient": "left", "values": [0, 25, 50, 75, 100], "grid": false, "domain": false, "ticks": true, "tickSize": 3, "tickColor": "#999", "labelFont": "Liberation Sans", "labelFontSize": 8, "labelColor": "#3d8ccb", "labelPadding": 1.5, "title": null}},
             "text": {"field": "mark", "type": "nominal"},
             "color": {"condition": {"test": "datum.mark == '✓'", "value": "#3a9a3a"}, "value": "#e0484a"}
           }}
        ]},
        {"layer": [
          {"transform": [{"filter": "datum.metric == 'Poison Success'"}],
           "mark": {"type": "bar", "stroke": "#ffffff", "strokeWidth": 0.8, "strokeOpacity": 0.55},
           "encoding": {
             "x": {"field": "method", "type": "nominal", "sort": null, "title": null, "scale": {"paddingInner": 0.14, "paddingOuter": 0.264, "align": 0.5}, "axis": {"labelAngle": 0, "labelFont": "Liberation Sans", "labelFontSize": 9, "labelColor": "#222", "labelPadding": 3, "ticks": false, "domain": false}},
             "xOffset": {"field": "metric", "type": "nominal", "scale": {"domain": ["Accuracy", "Poison Success"], "paddingInner": 0, "paddingOuter": 0}},
             "y": {"field": "value", "type": "quantitative", "scale": {"domain": [0, 100]}, "axis": {"orient": "right", "values": [0, 25, 50, 75, 100], "grid": false, "domain": false, "ticks": true, "tickSize": 3, "tickColor": "#999", "labelFont": "Liberation Sans", "labelFontSize": 8, "labelColor": "#fd9a40", "labelPadding": 1, "title": null}},
             "color": {"field": "metric", "type": "nominal", "scale": {"domain": ["Accuracy", "Poison Success"], "range": ["#1f77b4", "#ff7f0e"]}, "legend": null}
           }},
          {"transform": [{"filter": "datum.metric == 'Poison Success'"}],
           "mark": {"type": "text", "font": "Liberation Sans", "fontSize": 7.5, "color": "#222", "baseline": "alphabetic", "dy": -1},
           "encoding": {
             "x": {"field": "method", "type": "nominal", "sort": null, "title": null, "scale": {"paddingInner": 0.14, "paddingOuter": 0.264, "align": 0.5}, "axis": {"labelAngle": 0, "labelFont": "Liberation Sans", "labelFontSize": 9, "labelColor": "#222", "labelPadding": 3, "ticks": false, "domain": false}},
             "xOffset": {"field": "metric", "type": "nominal", "scale": {"domain": ["Accuracy", "Poison Success"], "paddingInner": 0, "paddingOuter": 0}},
             "y": {"field": "value", "type": "quantitative", "scale": {"domain": [0, 100]}, "axis": {"orient": "right", "values": [0, 25, 50, 75, 100], "grid": false, "domain": false, "ticks": true, "tickSize": 3, "tickColor": "#999", "labelFont": "Liberation Sans", "labelFontSize": 8, "labelColor": "#fd9a40", "labelPadding": 1, "title": null}},
             "text": {"field": "value", "type": "quantitative", "format": ".1f"}
           }}
        ]}
      ],
      "resolve": {"scale": {"y": "independent"}}
    },
    {
      "width": 202.15, "height": 132,
      "view": {"stroke": "#8c8c8c"},
      "data": {"name": "bars"},
      "transform": [{"filter": "datum.panel == 'U3'"}],
      "layer": [
        {"layer": [
          {"transform": [{"filter": "datum.metric == 'Accuracy'"}],
           "mark": {"type": "bar", "stroke": "#ffffff", "strokeWidth": 0.8, "strokeOpacity": 0.55},
           "encoding": {
             "x": {"field": "method", "type": "nominal", "sort": null, "title": null, "scale": {"paddingInner": 0.11, "paddingOuter": 0.31, "align": 0.53}, "axis": {"labelAngle": 0, "labelFont": "Liberation Sans", "labelFontSize": 9, "labelColor": "#222", "labelPadding": 3, "ticks": false, "domain": false}},
             "xOffset": {"field": "metric", "type": "nominal", "scale": {"domain": ["Accuracy", "Poison Success"], "paddingInner": 0, "paddingOuter": 0}},
             "y": {"field": "value", "type": "quantitative", "scale": {"domain": [0, 100]}, "axis": {"orient": "left", "values": [0, 25, 50, 75, 100], "grid": false, "domain": false, "ticks": true, "tickSize": 3, "tickColor": "#999", "labelFont": "Liberation Sans", "labelFontSize": 8, "labelColor": "#3d8ccb", "labelPadding": 1.5, "title": null}},
             "color": {"field": "metric", "type": "nominal", "scale": {"domain": ["Accuracy", "Poison Success"], "range": ["#1f77b4", "#ff7f0e"]}, "legend": null}
           }},
          {"transform": [{"filter": "datum.metric == 'Accuracy'"}],
           "mark": {"type": "text", "font": "Liberation Sans", "fontSize": 7.5, "color": "#222", "baseline": "alphabetic", "dy": -1},
           "encoding": {
             "x": {"field": "method", "type": "nominal", "sort": null, "title": null, "scale": {"paddingInner": 0.11, "paddingOuter": 0.31, "align": 0.53}, "axis": {"labelAngle": 0, "labelFont": "Liberation Sans", "labelFontSize": 9, "labelColor": "#222", "labelPadding": 3, "ticks": false, "domain": false}},
             "xOffset": {"field": "metric", "type": "nominal", "scale": {"domain": ["Accuracy", "Poison Success"], "paddingInner": 0, "paddingOuter": 0}},
             "y": {"field": "value", "type": "quantitative", "scale": {"domain": [0, 100]}, "axis": {"orient": "left", "values": [0, 25, 50, 75, 100], "grid": false, "domain": false, "ticks": true, "tickSize": 3, "tickColor": "#999", "labelFont": "Liberation Sans", "labelFontSize": 8, "labelColor": "#3d8ccb", "labelPadding": 1.5, "title": null}},
             "text": {"field": "value", "type": "quantitative", "format": ".1f"}
           }},
          {"data": {"name": "refs"},
           "transform": [{"filter": "datum.panel == 'U3' && datum.metric == 'Accuracy'"}],
           "mark": {"type": "rule", "color": "#4f96cf", "strokeWidth": 1, "strokeDash": [7, 2.5, 1.5, 2.5]},
           "encoding": {"y": {"field": "value", "type": "quantitative", "scale": {"domain": [0, 100]}, "axis": {"orient": "left", "values": [0, 25, 50, 75, 100], "grid": false, "domain": false, "ticks": true, "tickSize": 3, "tickColor": "#999", "labelFont": "Liberation Sans", "labelFontSize": 8, "labelColor": "#3d8ccb", "labelPadding": 1.5, "title": null}}}},
          {"transform": [{"filter": "datum.metric == 'Poison Success'"}],
           "mark": {"type": "text", "font": "DejaVu Sans", "fontSize": 8.5, "baseline": "middle"},
           "encoding": {
             "x": {"field": "method", "type": "nominal", "sort": null, "title": null, "scale": {"paddingInner": 0.11, "paddingOuter": 0.31, "align": 0.53}, "axis": {"labelAngle": 0, "labelFont": "Liberation Sans", "labelFontSize": 9, "labelColor": "#222", "labelPadding": 3, "ticks": false, "domain": false}},
             "y": {"datum": -13, "type": "quantitative", "scale": {"domain": [0, 100]}, "axis": {"orient": "left", "values": [0, 25, 50, 75, 100], "grid": false, "domain": false, "ticks": true, "tickSize": 3, "tickColor": "#999", "labelFont": "Liberation Sans", "labelFontSize": 8, "labelColor": "#3d8ccb", "labelPadding": 1.5, "title": null}},
             "text": {"field": "mark", "type": "nominal"},
             "color": {"condition": {"test": "datum.mark == '✓'", "value": "#3a9a3a"}, "value": "#e0484a"}
           }}
        ]},
        {"layer": [
          {"transform": [{"filter": "datum.metric == 'Poison Success'"}],
           "mark": {"type": "bar", "stroke": "#ffffff", "strokeWidth": 0.8, "strokeOpacity": 0.55},
           "encoding": {
             "x": {"field": "method", "type": "nominal", "sort": null, "title": null, "scale": {"paddingInner": 0.11, "paddingOuter": 0.31, "align": 0.53}, "axis": {"labelAngle": 0, "labelFont": "Liberation Sans", "labelFontSize": 9, "labelColor": "#222", "labelPadding": 3, "ticks": false, "domain": false}},
             "xOffset": {"field": "metric", "type": "nominal", "scale": {"domain": ["Accuracy", "Poison Success"], "paddingInner": 0, "paddingOuter": 0}},
             "y": {"field": "value", "type": "quantitative", "scale": {"domain": [0, 100]}, "axis": {"orient": "right", "values": [0, 25, 50, 75, 100], "grid": false, "domain": false, "ticks": true, "tickSize": 3, "tickColor": "#999", "labelFont": "Liberation Sans", "labelFontSize": 8, "labelColor": "#fd9a40", "labelPadding": 1, "title": ["Poison Success (%)", "(⟵ better unlearning)"], "titleAngle": 270, "titleBaseline": "top", "titleFont": "Liberation Sans", "titleFontSize": 11.5, "titleFontWeight": "normal", "titleColor": "#fd9a40", "titlePadding": -10, "titleLineHeight": 12}},
             "color": {"field": "metric", "type": "nominal", "scale": {"domain": ["Accuracy", "Poison Success"], "range": ["#1f77b4", "#ff7f0e"]}, "legend": null}
           }},
          {"transform": [{"filter": "datum.metric == 'Poison Success'"}],
           "mark": {"type": "text", "font": "Liberation Sans", "fontSize": 7.5, "color": "#222", "baseline": "alphabetic", "dy": -1},
           "encoding": {
             "x": {"field": "method", "type": "nominal", "sort": null, "title": null, "scale": {"paddingInner": 0.11, "paddingOuter": 0.31, "align": 0.53}, "axis": {"labelAngle": 0, "labelFont": "Liberation Sans", "labelFontSize": 9, "labelColor": "#222", "labelPadding": 3, "ticks": false, "domain": false}},
             "xOffset": {"field": "metric", "type": "nominal", "scale": {"domain": ["Accuracy", "Poison Success"], "paddingInner": 0, "paddingOuter": 0}},
             "y": {"field": "value", "type": "quantitative", "scale": {"domain": [0, 100]}, "axis": {"orient": "right", "values": [0, 25, 50, 75, 100], "grid": false, "domain": false, "ticks": true, "tickSize": 3, "tickColor": "#999", "labelFont": "Liberation Sans", "labelFontSize": 8, "labelColor": "#fd9a40", "labelPadding": 1, "title": ["Poison Success (%)", "(⟵ better unlearning)"], "titleAngle": 270, "titleBaseline": "top", "titleFont": "Liberation Sans", "titleFontSize": 11.5, "titleFontWeight": "normal", "titleColor": "#fd9a40", "titlePadding": -10, "titleLineHeight": 12}},
             "text": {"field": "value", "type": "quantitative", "format": ".1f"}
           }}
        ]}
      ],
      "resolve": {"scale": {"y": "independent"}}
    }
  ],
  "config": {
    "axis": {"grid": false},
    "view": {"stroke": "#aaaaaa"},
    "legend": {"cornerRadius": 0}
  }
}
